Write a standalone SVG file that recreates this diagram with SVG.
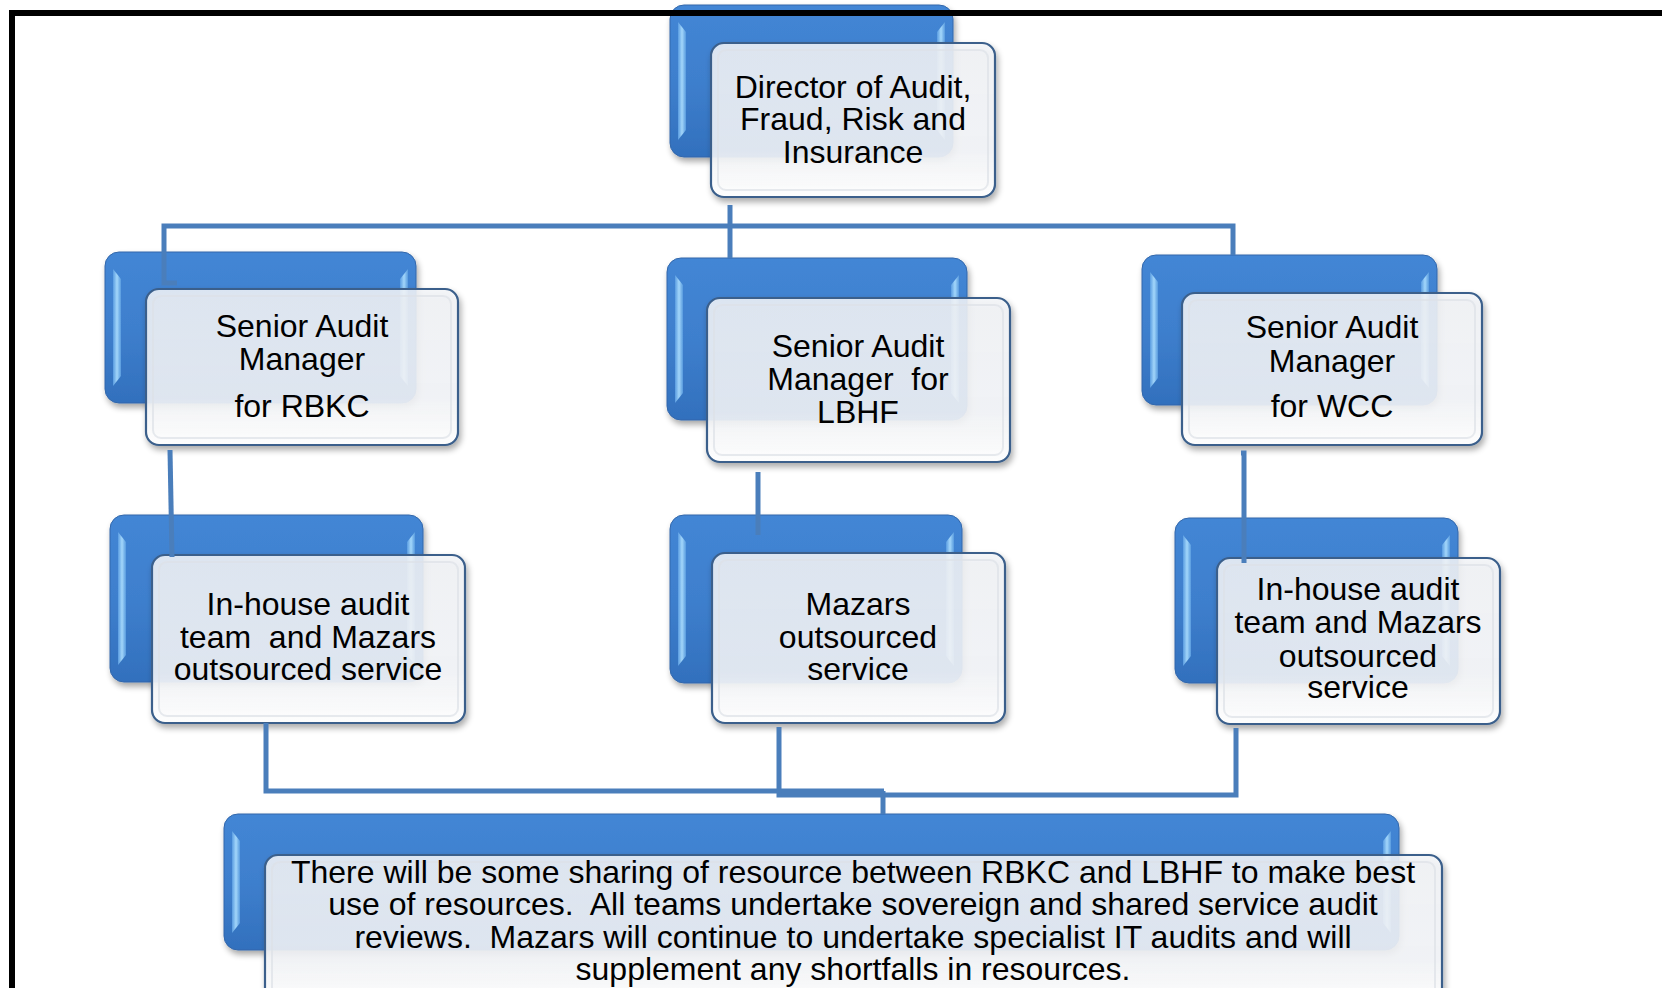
<svg xmlns="http://www.w3.org/2000/svg" width="1662" height="988" viewBox="0 0 1662 988">
<defs>
<linearGradient id="gBlue" x1="0" y1="0" x2="0" y2="1">
<stop offset="0" stop-color="#4386d5"/>
<stop offset="0.5" stop-color="#3e7fcd"/>
<stop offset="1" stop-color="#3270bd"/>
</linearGradient>
<linearGradient id="gBev" x1="0" y1="0" x2="1" y2="0">
<stop offset="0" stop-color="#5c9fe3"/>
<stop offset="0.5" stop-color="#aee0ff"/>
<stop offset="1" stop-color="#5a9de0"/>
</linearGradient>
<linearGradient id="gFront" x1="0" y1="0" x2="0" y2="1">
<stop offset="0" stop-color="#f3f5f8" stop-opacity="0.86"/>
<stop offset="0.7" stop-color="#f4f6f9" stop-opacity="0.87"/>
<stop offset="1" stop-color="#ffffff" stop-opacity="0.95"/>
</linearGradient>
<filter id="sh" x="-10%" y="-10%" width="120%" height="130%">
<feGaussianBlur in="SourceAlpha" stdDeviation="3"/>
<feOffset dx="2" dy="4" result="b"/>
<feComponentTransfer><feFuncA type="linear" slope="0.35"/></feComponentTransfer>
<feMerge><feMergeNode/><feMergeNode in="SourceGraphic"/></feMerge>
</filter>
</defs>
<style>
.back{fill:url(#gBlue);stroke:#3267ab;stroke-width:1;filter:url(#sh)}
.bev{fill:url(#gBev);opacity:0.9}
.front{fill:url(#gFront);stroke:#3a5f8b;stroke-width:2.2;filter:url(#sh)}
.inner{fill:none;stroke:#dde1e7;stroke-width:2;opacity:0.7}
.t{font-family:"Liberation Sans",Arial,sans-serif;font-size:32px;fill:#000;text-anchor:middle;white-space:pre}
.conn{fill:none;stroke:#4a7ebb;stroke-width:5}
.frame{fill:none;stroke:#000;stroke-width:6}
</style>
<rect width="1662" height="988" fill="#fff"/>

<g id="node-director">
<rect class="back" x="670" y="5" width="283" height="152" rx="14"/>
<polygon class="bev" points="678,22 686,32 686,130 678,140"/>
<polygon class="bev" points="945,22 937,32 937,130 945,140"/>
<rect class="front" x="711" y="43" width="284" height="154" rx="13"/>
<rect class="inner" x="718" y="50" width="270" height="140" rx="8"/>
<text class="t" x="853" y="98">Director of Audit,</text>
<text class="t" x="853" y="130">Fraud, Risk and</text>
<text class="t" x="853" y="163">Insurance</text>
</g>

<g id="node-sam-rbkc">
<rect class="back" x="105" y="252" width="311" height="151" rx="14"/>
<polygon class="bev" points="113,269 121,279 121,376 113,386"/>
<polygon class="bev" points="408,269 400,279 400,376 408,386"/>
<rect class="front" x="146" y="289" width="312" height="156" rx="13"/>
<rect class="inner" x="153" y="296" width="298" height="142" rx="8"/>
<text class="t" x="302" y="337">Senior Audit</text>
<text class="t" x="302" y="370">Manager</text>
<text class="t" x="302" y="417">for RBKC</text>
</g>

<g id="node-sam-lbhf">
<rect class="back" x="667" y="258" width="300" height="162" rx="14"/>
<polygon class="bev" points="675,275 683,285 683,393 675,403"/>
<polygon class="bev" points="959,275 951,285 951,393 959,403"/>
<rect class="front" x="707" y="298" width="303" height="164" rx="13"/>
<rect class="inner" x="714" y="305" width="289" height="150" rx="8"/>
<text class="t" x="858" y="357">Senior Audit</text>
<text class="t" x="858" y="390" xml:space="preserve">Manager  for</text>
<text class="t" x="858" y="423">LBHF</text>
</g>

<g id="node-sam-wcc">
<rect class="back" x="1142" y="255" width="295" height="150" rx="14"/>
<polygon class="bev" points="1150,272 1158,282 1158,378 1150,388"/>
<polygon class="bev" points="1429,272 1421,282 1421,378 1429,388"/>
<rect class="front" x="1182" y="293" width="300" height="152" rx="13"/>
<rect class="inner" x="1189" y="300" width="286" height="138" rx="8"/>
<text class="t" x="1332" y="338">Senior Audit</text>
<text class="t" x="1332" y="372">Manager</text>
<text class="t" x="1332" y="417">for WCC</text>
</g>

<g id="node-inhouse-rbkc">
<rect class="back" x="110" y="515" width="313" height="167" rx="14"/>
<polygon class="bev" points="118,532 126,542 126,655 118,665"/>
<polygon class="bev" points="415,532 407,542 407,655 415,665"/>
<rect class="front" x="152" y="555" width="313" height="168" rx="13"/>
<rect class="inner" x="159" y="562" width="299" height="154" rx="8"/>
<text class="t" x="308" y="615">In-house audit</text>
<text class="t" x="308" y="648" xml:space="preserve">team  and Mazars</text>
<text class="t" x="308" y="680">outsourced service</text>
</g>

<g id="node-mazars-lbhf">
<rect class="back" x="670" y="515" width="292" height="168" rx="14"/>
<polygon class="bev" points="678,532 686,542 686,656 678,666"/>
<polygon class="bev" points="954,532 946,542 946,656 954,666"/>
<rect class="front" x="712" y="553" width="293" height="170" rx="13"/>
<rect class="inner" x="719" y="560" width="279" height="156" rx="8"/>
<text class="t" x="858" y="615">Mazars</text>
<text class="t" x="858" y="648">outsourced</text>
<text class="t" x="858" y="680">service</text>
</g>

<g id="node-inhouse-wcc">
<rect class="back" x="1175" y="518" width="283" height="165" rx="14"/>
<polygon class="bev" points="1183,535 1191,545 1191,656 1183,666"/>
<polygon class="bev" points="1450,535 1442,545 1442,656 1450,666"/>
<rect class="front" x="1217" y="558" width="283" height="166" rx="13"/>
<rect class="inner" x="1224" y="565" width="269" height="152" rx="8"/>
<text class="t" x="1358" y="600">In-house audit</text>
<text class="t" x="1358" y="633">team and Mazars</text>
<text class="t" x="1358" y="667">outsourced</text>
<text class="t" x="1358" y="698">service</text>
</g>

<g id="node-sharing">
<rect class="back" x="224" y="814" width="1175" height="136" rx="14"/>
<polygon class="bev" points="232,831 240,841 240,923 232,933"/>
<polygon class="bev" points="1391,831 1383,841 1383,923 1391,933"/>
<rect class="front" x="265" y="855" width="1177" height="150" rx="13"/>
<rect class="inner" x="272" y="862" width="1163" height="136" rx="8"/>
<text class="t" x="853" y="883">There will be some sharing of resource between RBKC and LBHF to make best</text>
<text class="t" x="853" y="915" xml:space="preserve">use of resources.  All teams undertake sovereign and shared service audit</text>
<text class="t" x="853" y="948" xml:space="preserve">reviews.  Mazars will continue to undertake specialist IT audits and will</text>
<text class="t" x="853" y="980">supplement any shortfalls in resources.</text>
</g>

<g id="connectors">
<path class="conn" d="M730,205 V258"/>
<path class="conn" d="M177,283 H164 V226 H1233 V255"/>
<path class="conn" d="M170,450 L172,557"/>
<path class="conn" d="M758,472 V535"/>
<path class="conn" d="M1241,453 H1244 V563"/>
<path class="conn" d="M266,723 V791 H884"/>
<path class="conn" d="M779,727 V795 H1236 V728"/>
<path class="conn" d="M883,791 V814"/>
</g>

<path class="frame" d="M12,988 V13 H1662"/>
</svg>
